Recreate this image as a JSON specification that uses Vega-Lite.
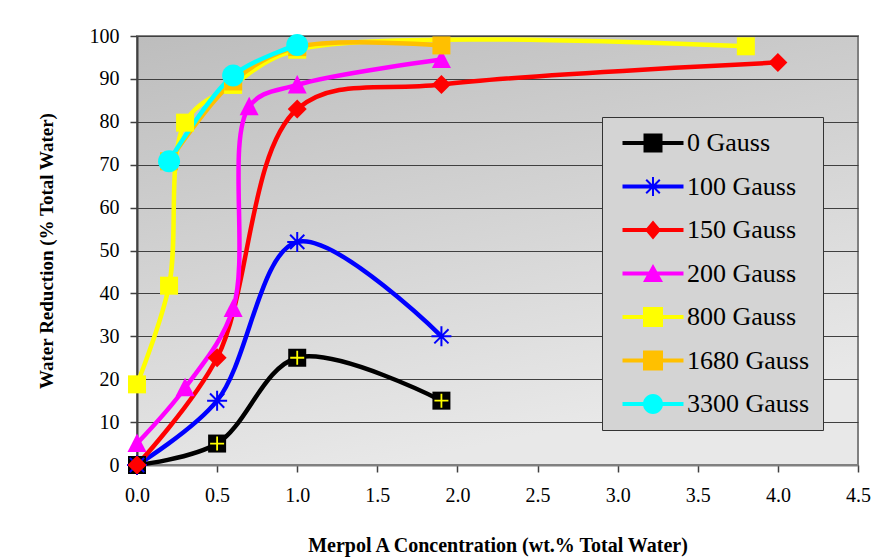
{
  "$schema": "https://vega.github.io/schema/vega-lite/v6.json",
  "width": 721,
  "height": 429,
  "autosize": {"type": "none"},
  "padding": {"left": 137, "top": 36, "right": 32, "bottom": 93},
  "background": "#ffffff",
  "data": {
    "values": [
      {"x": 0, "y": 0, "s": "0 Gauss"},
      {"x": 0.5, "y": 5, "s": "0 Gauss"},
      {"x": 1.0, "y": 25, "s": "0 Gauss"},
      {"x": 1.9, "y": 15, "s": "0 Gauss"},
      {"x": 0, "y": 0, "s": "100 Gauss"},
      {"x": 0.5, "y": 15, "s": "100 Gauss"},
      {"x": 1.0, "y": 52, "s": "100 Gauss"},
      {"x": 1.9, "y": 30, "s": "100 Gauss"},
      {"x": 0, "y": 0, "s": "150 Gauss"},
      {"x": 0.5, "y": 25, "s": "150 Gauss"},
      {"x": 1.0, "y": 83, "s": "150 Gauss"},
      {"x": 1.9, "y": 88.7, "s": "150 Gauss"},
      {"x": 4.0, "y": 93.8, "s": "150 Gauss"},
      {"x": 0, "y": 5, "s": "200 Gauss"},
      {"x": 0.3, "y": 18, "s": "200 Gauss"},
      {"x": 0.6, "y": 36.5, "s": "200 Gauss"},
      {"x": 0.7, "y": 83.5, "s": "200 Gauss"},
      {"x": 1.0, "y": 88.6, "s": "200 Gauss"},
      {"x": 1.9, "y": 94.5, "s": "200 Gauss"},
      {"x": 0, "y": 18.8, "s": "800 Gauss"},
      {"x": 0.2, "y": 41.8, "s": "800 Gauss"},
      {"x": 0.3, "y": 79.8, "s": "800 Gauss"},
      {"x": 0.6, "y": 88.6, "s": "800 Gauss"},
      {"x": 1.0, "y": 96.8, "s": "800 Gauss"},
      {"x": 3.8, "y": 97.6, "s": "800 Gauss"},
      {"x": 0.2, "y": 70.8, "s": "1680 Gauss"},
      {"x": 0.6, "y": 89.4, "s": "1680 Gauss"},
      {"x": 1.0, "y": 97.4, "s": "1680 Gauss"},
      {"x": 1.9, "y": 97.8, "s": "1680 Gauss"},
      {"x": 0.2, "y": 70.8, "s": "3300 Gauss"},
      {"x": 0.6, "y": 90.8, "s": "3300 Gauss"},
      {"x": 1.0, "y": 97.9, "s": "3300 Gauss"}
    ]
  },
  "encoding": {
    "x": {
      "field": "x",
      "type": "quantitative",
      "scale": {"domain": [0, 4.5], "nice": false, "zero": false},
      "axis": {
        "values": [0, 0.5, 1, 1.5, 2, 2.5, 3, 3.5, 4, 4.5],
        "format": ".1f",
        "title": "Merpol A Concentration (wt.% Total Water)",
        "grid": false,
        "labelFlush": false,
        "tickSize": 7,
        "labelPadding": 13,
        "titlePadding": 30,
        "titleFontSize": 20,
        "domainColor": "#808080",
        "domainWidth": 2
      }
    },
    "y": {
      "field": "y",
      "type": "quantitative",
      "scale": {"domain": [0, 100], "nice": false},
      "axis": {
        "values": [0, 10, 20, 30, 40, 50, 60, 70, 80, 90, 100],
        "title": "Water Reduction (% Total Water)",
        "grid": true,
        "gridColor": "#404040",
        "gridWidth": 1.2,
        "gridOpacity": 1,
        "labelFlush": false,
        "tickSize": 7,
        "labelPadding": 11,
        "titlePadding": 33,
        "titleFontSize": 19,
        "domainColor": "#404040",
        "domainWidth": 2
      }
    }
  },
  "layer": [
    {
      "mark": {"type": "point", "filled": true, "opacity": 0, "size": 400},
      "encoding": {
        "color": {
          "field": "s",
          "type": "nominal",
          "scale": {
            "domain": ["0 Gauss", "100 Gauss", "150 Gauss", "200 Gauss", "800 Gauss", "1680 Gauss", "3300 Gauss"],
            "range": ["#000000", "#0000FF", "#FF0000", "#FF00FF", "#FFFF00", "#FFC000", "#00FFFF"]
          },
          "legend": {"title": null, "orient": "none", "legendX": 465, "legendY": 81,
            "labelFont": "Liberation Serif", "labelFontSize": 26, "labelOffset": 21, "rowPadding": 17.5}
        },
        "shape": {
          "field": "s",
          "type": "nominal",
          "scale": {
            "domain": ["0 Gauss", "100 Gauss", "150 Gauss", "200 Gauss", "800 Gauss", "1680 Gauss", "3300 Gauss"],
            "range": [
              "M-3.05,-0.2H3.05V0.2H-3.05Z M-0.95,-0.95H0.95V0.95H-0.95Z",
              "M-3.05,-0.2H3.05V0.2H-3.05Z M-0.1,-0.95H0.1V0.95H-0.1Z M-0.75,-0.61L-0.61,-0.75L0.75,0.61L0.61,0.75Z M-0.75,0.61L0.61,-0.75L0.75,-0.61L-0.61,0.75Z",
              "M-3.05,-0.2H3.05V0.2H-3.05Z M0,-0.95L0.8,0L0,0.95L-0.8,0Z",
              "M-3.05,-0.2H3.05V0.2H-3.05Z M0,-0.95L1,0.85L-1,0.85Z",
              "M-3.05,-0.2H3.05V0.2H-3.05Z M-1,-1H1V1H-1Z",
              "M-3.05,-0.2H3.05V0.2H-3.05Z M-1,-1H1V1H-1Z",
              "M-3.05,-0.2H3.05V0.2H-3.05Z M-1,0A1,1,0,1,1,1,0A1,1,0,1,1,-1,0Z"
            ]
          },
          "legend": {"title": null, "orient": "none", "legendX": 465, "legendY": 81,
            "labelFont": "Liberation Serif", "labelFontSize": 26, "labelOffset": 21, "rowPadding": 17.5}
        }
      }
    },
    {
      "mark": {"type": "line", "interpolate": "catmull-rom", "strokeWidth": 4.5},
      "encoding": {
        "stroke": {
          "field": "s",
          "type": "nominal",
          "scale": {
            "domain": ["0 Gauss", "100 Gauss", "150 Gauss", "200 Gauss", "800 Gauss", "1680 Gauss", "3300 Gauss"],
            "range": ["#000000", "#0000FF", "#FF0000", "#FF00FF", "#FFFF00", "#FFC000", "#00FFFF"]
          },
          "legend": null
        }
      }
    },
    {
      "transform": [{"filter": "datum.s === '0 Gauss'"}],
      "mark": {"type": "point", "filled": true, "opacity": 1, "size": 400, "color": "#000000",
        "shape": "M-0.9,-0.9H0.9V0.9H-0.9Z"}
    },
    {
      "transform": [{"filter": "datum.s === '0 Gauss'"}],
      "mark": {"type": "point", "filled": true, "opacity": 1, "size": 400, "color": "#FFFF00",
        "shape": "M-0.7,-0.09H0.7V0.09H-0.7Z M-0.09,-0.7H0.09V0.7H-0.09Z"}
    },
    {
      "transform": [{"filter": "datum.s === '100 Gauss'"}],
      "mark": {"type": "point", "filled": true, "opacity": 1, "size": 400, "color": "#0000FF",
        "shape": "M-1,-0.1H1V0.1H-1Z M-0.1,-1H0.1V1H-0.1Z M-0.78,-0.64L-0.64,-0.78L0.78,0.64L0.64,0.78Z M-0.78,0.64L0.64,-0.78L0.78,-0.64L-0.64,0.78Z"}
    },
    {
      "transform": [{"filter": "datum.s === '150 Gauss'"}],
      "mark": {"type": "point", "filled": true, "opacity": 1, "size": 400, "color": "#FF0000",
        "shape": "M0,-0.95L0.95,0L0,0.95L-0.95,0Z"}
    },
    {
      "transform": [{"filter": "datum.s === '200 Gauss'"}],
      "mark": {"type": "point", "filled": true, "opacity": 1, "size": 400, "color": "#FF00FF",
        "shape": "M0,-1L0.95,0.85L-0.95,0.85Z"}
    },
    {
      "transform": [{"filter": "datum.s === '800 Gauss'"}],
      "mark": {"type": "point", "filled": true, "opacity": 1, "size": 400, "color": "#FFFF00",
        "shape": "M-0.9,-0.9H0.9V0.9H-0.9Z"}
    },
    {
      "transform": [{"filter": "datum.s === '1680 Gauss'"}],
      "mark": {"type": "point", "filled": true, "opacity": 1, "size": 400, "color": "#FFC000",
        "shape": "M-0.9,-0.9H0.9V0.9H-0.9Z"}
    },
    {
      "transform": [{"filter": "datum.s === '3300 Gauss'"}],
      "mark": {"type": "point", "filled": true, "opacity": 1, "size": 400, "color": "#00FFFF",
        "shape": "M-1.1,0A1.1,1.1,0,1,1,1.1,0A1.1,1.1,0,1,1,-1.1,0Z"}
    }
  ],
  "config": {
    "view": {
      "fill": {
        "gradient": "linear",
        "x1": 0, "y1": 0, "x2": 0.35, "y2": 1,
        "stops": [{"offset": 0, "color": "#bdbdbd"}, {"offset": 1, "color": "#e8e8e8"}]
      },
      "stroke": "#808080",
      "strokeWidth": 2
    },
    "axis": {
      "labelFont": "Liberation Serif",
      "labelFontSize": 20,
      "labelColor": "#000000",
      "titleFont": "Liberation Serif",
      "titleFontWeight": "bold",
      "titleColor": "#000000",
      "tickColor": "#404040",
      "tickWidth": 1.5
    },
    "legend": {
      "labelFont": "Liberation Serif",
      "labelFontSize": 26,
      "labelColor": "#000000",
      "symbolSize": 400,
      "symbolOffset": 25,
      "labelOffset": 21,
      "rowPadding": 17.5,
      "padding": 13,
      "fillColor": "#d4d4d4",
      "strokeColor": "#333333",
      "symbolStrokeWidth": 0,
      "symbolOpacity": 1
    }
  }
}
